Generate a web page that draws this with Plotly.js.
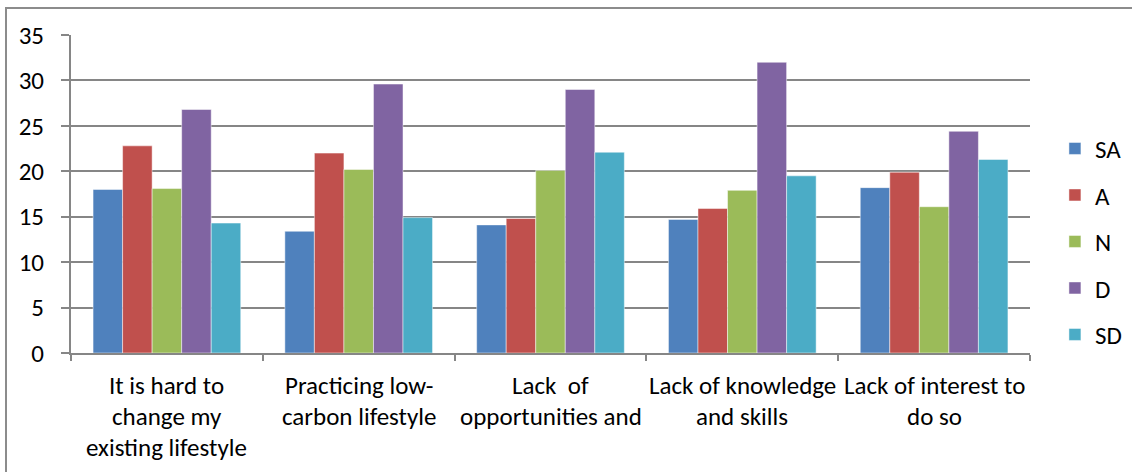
<!DOCTYPE html>
<html>
<head>
<meta charset="utf-8">
<script src="https://cdn.plot.ly/plotly-3.0.1.min.js"></script>
<style>
  html, body { margin: 0; padding: 0; background: #fff; }
  #wrap { position: relative; width: 1132px; height: 472px; overflow: hidden; }
  #frame { position: absolute; left: 5px; top: 7px; width: 1200px; height: 600px;
           border-left: 2px solid #8c8c8c; border-top: 2px solid #8c8c8c; pointer-events: none; }
  #chart { position: absolute; left: 0; top: 0; width: 1132px; height: 472px; }
</style>
</head>
<body>
<div id="wrap">
  <div id="chart"></div>
  <div id="frame"></div>
</div>
<script>
const categories = ["c1", "c2", "c3", "c4", "c5"];
const categoryLabels = [
  ["It is hard to", "change my", "existing lifestyle"],
  ["Practicing low-", "carbon lifestyle"],
  ["Lack  of", "opportunities and"],
  ["Lack of knowledge", "and skills"],
  ["Lack of interest to", "do so"]
];
const seriesNames = ["SA", "A", "N", "D", "SD"];
const SA = [18.0, 13.4, 14.1, 14.7, 18.2];
const A  = [22.8, 22.0, 14.8, 15.9, 19.9];
const N  = [18.1, 20.2, 20.1, 17.9, 16.1];
const D  = [26.8, 29.6, 29.0, 32.0, 24.4];
const SD = [14.3, 14.9, 22.1, 19.5, 21.3];
const yTicks = [0, 5, 10, 15, 20, 25, 30, 35];

const seriesValues = [SA, A, N, D, SD];
const colors = ["#4F81BD", "#C0504D", "#9BBB59", "#8064A2", "#4BACC6"];
const FONT = "Carlito, Lato, 'Open Sans', sans-serif";
const FS = 25;

const traces = seriesNames.map((name, i) => ({
  type: "bar",
  name: name,
  x: categories,
  y: seriesValues[i],
  legendgroup: name,
  marker: { color: colors[i], line: { color: "rgba(255,255,255,0.6)", width: 0.8 } },
  hoverinfo: "x+y+name"
}));

const annotations = [];
categoryLabels.forEach((lines, ci) => {
  lines.forEach((line, li) => {
    annotations.push({
      x: categories[ci], xref: "x",
      y: 0, yref: "paper",
      yanchor: "middle", xanchor: "center",
      yshift: -32 - li * 31,
      text: line, showarrow: false,
      font: { family: FONT, size: FS, color: "#000" }
    });
  });
});

const layout = {
  width: 1132, height: 472,
  margin: { l: 71, r: 102, t: 35, b: 119, autoexpand: false },
  paper_bgcolor: "#fff", plot_bgcolor: "#fff",
  barmode: "group",
  bargap: 0.23, bargroupgap: 0,
  showlegend: true,
  legend: {
    x: 1.026, xanchor: "left", y: 0.35, yanchor: "middle",
    font: { family: FONT, size: FS, color: "#000" },
    tracegroupgap: 11, itemwidth: 30,
    bgcolor: "rgba(0,0,0,0)"
  },
  xaxis: {
    type: "category",
    showticklabels: false,
    ticks: "outside", tickson: "boundaries", ticklen: 6,
    tickcolor: "#868686", tickwidth: 2,
    showline: true, linecolor: "#868686", linewidth: 2,
    showgrid: false, zeroline: false, fixedrange: true
  },
  yaxis: {
    range: [0, 35],
    tickvals: yTicks, ticktext: yTicks.map(String),
    ticks: "outside", ticklen: 8, tickcolor: "#868686", tickwidth: 2,
    ticklabelstandoff: 12,
    showgrid: true, gridcolor: "#868686", gridwidth: 2,
    showline: true, linecolor: "#868686", linewidth: 2,
    zeroline: false,
    tickfont: { family: FONT, size: FS, color: "#000" },
    fixedrange: true
  },
  annotations: annotations
};

Plotly.newPlot("chart", traces, layout, { displayModeBar: false, staticPlot: true });
</script>
</body>
</html>
